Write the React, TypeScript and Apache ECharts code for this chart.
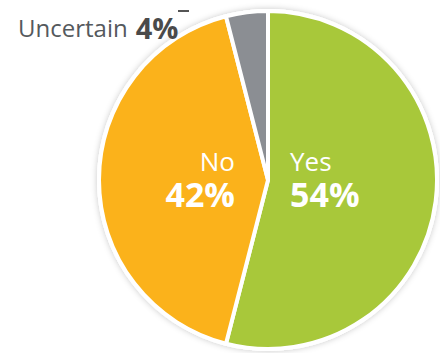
import React, { useEffect, useRef } from "react";
import * as echarts from "echarts";

const categories = ["Yes", "No", "Uncertain"];
const values = [54, 42, 4];
const colors = ["#a8c83a", "#fbb21b", "#8b8e93"];

export default function App() {
  const ref = useRef<HTMLDivElement>(null);
  useEffect(() => {
    if (!ref.current) return;
    const chart = echarts.init(ref.current, null, { renderer: "svg" });
    const cx = 268;
    const cy = 180;
    const font = "'Open Sans', 'Noto Sans', sans-serif";
    const data = categories.map((name, i) => ({
      name,
      value: values[i],
      itemStyle: { color: colors[i] },
    }));
    chart.setOption({
      animation: false,
      backgroundColor: "#ffffff",
      graphic: [
        {
          type: "line",
          shape: { x1: 178, y1: 11, x2: 189, y2: 11 },
          style: { stroke: "#555555", lineWidth: 2 },
          z: 10,
        },
      ],
      series: [
        {
          type: "pie",
          silent: true,
          center: [cx, cy],
          radius: [0, 171],
          z: 1,
          label: { show: false },
          labelLine: { show: false },
          data: [{ value: 1, itemStyle: { color: "#ffffff", shadowBlur: 6, shadowColor: "rgba(0,0,0,0.22)" } }],
        },
        {
          type: "pie",
          center: [cx, cy],
          radius: [0, 169],
          startAngle: 90,
          clockwise: true,
          z: 2,
          itemStyle: { borderColor: "#ffffff", borderWidth: 4 },
          label: {
            show: true,
            position: "inside",
            fontFamily: font,
            formatter: (p: any) =>
              p.dataIndex === 2
                ? `{u|${p.name}}{p|${p.value}%}`
                : `{n|${p.name}}\n{v|${p.value}%}`,
            rich: {
              n: { fontFamily: font, fontSize: 26, color: "#ffffff", lineHeight: 30 },
              v: { fontFamily: font, fontSize: 34, fontWeight: "bold", color: "#ffffff", lineHeight: 36 },
              u: { fontFamily: font, fontSize: 24, color: "#55595d", lineHeight: 30 },
              p: { fontFamily: font, fontSize: 29, fontWeight: "bold", color: "#4a4a4a", lineHeight: 30, padding: [0, 0, 0, 8] },
            },
          },
          labelLine: { show: false },
          labelLayout: (params: any) => {
            if (params.dataIndex === 0) {
              return { x: cx + 22, y: cy - 1, align: "left", verticalAlign: "middle" };
            }
            if (params.dataIndex === 1) {
              return { x: cx - 33, y: cy - 1, align: "right", verticalAlign: "middle" };
            }
            return { x: 18, y: 27, align: "left", verticalAlign: "middle" };
          },
          data,
        },
      ],
    });
    return () => chart.dispose();
  }, []);
  return <div ref={ref} style={{ width: 440, height: 353, position: "absolute", left: 0, top: 0 }} />;
}
